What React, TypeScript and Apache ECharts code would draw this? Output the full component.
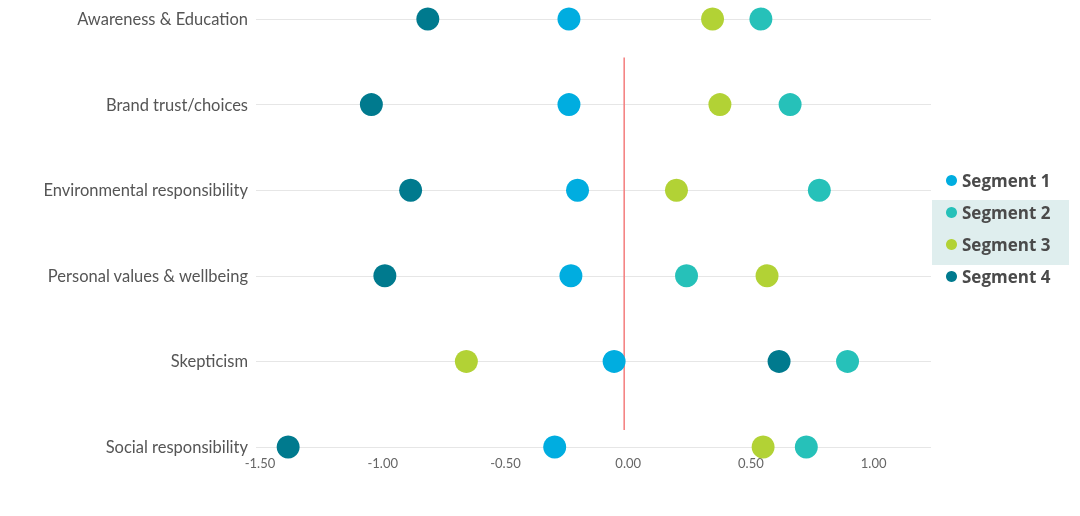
import React, { useEffect, useRef } from "react";
import * as echarts from "echarts";

const categories = [
  "Awareness & Education",
  "Brand trust/choices",
  "Environmental responsibility",
  "Personal values & wellbeing",
  "Skepticism",
  "Social responsibility",
];
const seriesNames = ["Segment 1", "Segment 2", "Segment 3", "Segment 4"];
const segment1 = [-0.225, -0.225, -0.19, -0.217, -0.041, -0.283];
const segment2 = [0.557, 0.676, 0.795, 0.254, 0.91, 0.742];
const segment3 = [0.36, 0.39, 0.213, 0.582, -0.643, 0.566];
const segment4 = [-0.8, -1.03, -0.87, -0.975, 0.631, -1.369];
const colors = ["#00ADE0", "#26C1B9", "#B2D235", "#007A8E"];
const refLineX = 0;
const refLineSpan = [0.45, 4.8];

export default function App() {
  const ref = useRef<HTMLDivElement>(null);
  useEffect(() => {
    if (!ref.current) return;
    const chart = echarts.init(ref.current, undefined, { renderer: "svg" });
    const values = [segment1, segment2, segment3, segment4];
    const font = "Lato, 'Noto Sans', sans-serif";
    chart.setOption({
      animation: false,
      textStyle: { fontFamily: font },
      grid: { left: 256, right: 149, top: 19, bottom: 69 },
      legend: {
        orient: "vertical",
        left: 941,
        top: 167,
        itemWidth: 11,
        itemHeight: 11,
        itemGap: 15,
        icon: "circle",
        data: seriesNames,
        textStyle: {
          fontSize: 17,
          fontWeight: "bold",
          color: "#4a4a4a",
          fontFamily: "'Open Sans', sans-serif",
        },
      },
      graphic: [
        {
          type: "rect",
          left: 932,
          top: 200,
          z: -1,
          shape: { width: 137, height: 65 },
          style: { fill: "#DFEEEE" },
        },
      ],
      xAxis: {
        type: "value",
        min: -1.5,
        max: 1.25,
        interval: 0.5,
        splitLine: { show: false },
        axisLine: { show: false },
        axisTick: { show: false },
        axisLabel: {
          showMaxLabel: false,
          color: "#666",
          fontSize: 13,
          margin: 9,
          padding: [0, 0, 0, 8],
          formatter: (v: number) => v.toFixed(2),
        },
      },
      yAxis: [
        {
          type: "category",
          data: categories,
          inverse: true,
          boundaryGap: false,
          axisLine: { show: false },
          axisTick: { show: false },
          axisLabel: { color: "#555", fontSize: 16.5, margin: 8 },
          splitLine: { show: true, lineStyle: { color: "#E6E6E6", width: 1 } },
        },
        {
          type: "value",
          min: 0,
          max: 5,
          inverse: true,
          show: false,
        },
      ],
      series: [
        {
          type: "line",
          yAxisIndex: 1,
          data: [
            [refLineX, refLineSpan[0]],
            [refLineX, refLineSpan[1]],
          ],
          symbol: "none",
          lineStyle: { color: "#F47C7C", width: 1.5 },
          silent: true,
          z: 1,
        },
        ...seriesNames.map((name, i) => ({
          name,
          type: "scatter",
          symbolSize: 23,
          itemStyle: { color: colors[i], opacity: 1 },
          data: values[i].map((v, j) => [v, categories[j]]),
          z: 3,
        })),
      ],
    });
    return () => chart.dispose();
  }, []);
  return (
    <div
      ref={ref}
      style={{ position: "fixed", left: 0, top: 0, width: 1080, height: 516 }}
    />
  );
}
